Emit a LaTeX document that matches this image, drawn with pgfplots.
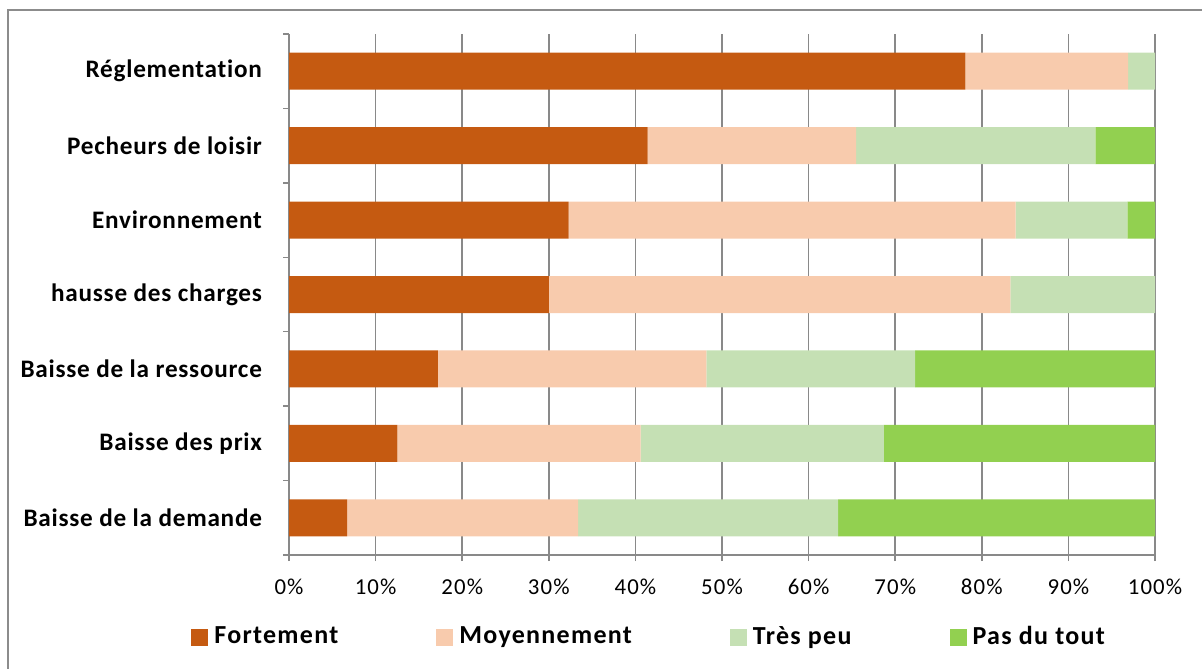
\documentclass[border=0pt]{standalone}
\usepackage{pgfplots}
\pgfplotsset{compat=1.18}
\usepackage{pgfplotstable}
\usepackage{fontspec}
\setmainfont{Carlito}
\newfontfamily\catfont[LetterSpace=3, Ligatures={NoCommon}]{Carlito}
\newfontfamily\legfont[LetterSpace=5, Ligatures={NoCommon}]{Carlito}
\newfontfamily\tickfont[LetterSpace=5]{Carlito}

\definecolor{cFort}{HTML}{C55A11}
\definecolor{cMoy}{HTML}{F8CBAD}
\definecolor{cTres}{HTML}{C5E0B4}
\definecolor{cPas}{HTML}{92D050}
\definecolor{gridgray}{HTML}{898989}
\definecolor{framegray}{HTML}{8C8C8C}

% share of answers (%) per factor, bottom to top
\pgfplotstableread{
pos fort moy tres pas
0 6.7 26.7 30.0 36.6
1 12.5 28.1 28.1 31.3
2 17.2 31.0 24.1 27.7
3 30.0 53.3 16.7 0
4 32.3 51.6 12.9 3.2
5 41.4 24.1 27.6 6.9
6 78.1 18.8 3.1 0
}\answers

\begin{document}
\begin{tikzpicture}
\useasboundingbox (0,0) rectangle (601bp,-334.5bp);
\draw[framegray, line width=1bp] (4bp,-334.5bp) -- (4bp,-5bp) -- (601bp,-5bp);
\begin{axis}[
  at={(144.5bp,-277.5bp)}, anchor=south west,
  width=433bp, height=260.5bp, scale only axis,
  xbar stacked, bar width=18.5bp,
  xmin=0, xmax=100, ymin=-0.5, ymax=6.5,
  axis x line*=bottom, axis y line*=left,
  axis line style={gridgray, line width=0.75bp},
  xtick={0,10,...,100},
  xticklabel={\pgfmathprintnumber{\tick}\%},
  /pgf/number format/assume math mode=true,
  xmajorgrids, major grid style={gridgray, line width=0.75bp},
  tick align=outside,
  major tick length=3bp,
  tick style={gridgray, line width=0.75bp},
  ytick={0,...,6},
  yticklabels={Baisse de la demande, Baisse des prix, Baisse de la ressource, hausse des charges, Environnement, Pecheurs de loisir, Réglementation},
  minor ytick={-0.5,0.5,...,6.5},
  every major y tick/.append style={draw=none},
  minor tick length=3bp,
  yticklabel style={font=\catfont\fontsize{12.6bp}{14bp}\selectfont\bfseries, xshift=-7bp},
  xticklabel style={font=\tickfont\fontsize{11.4bp}{13bp}\selectfont, yshift=-5.5bp},
  legend columns=4,
  legend style={draw=none, fill=none, at={(-0.1132,-0.1574)}, anchor=west,
    inner sep=0pt,
    font=\legfont\fontsize{13bp}{15bp}\selectfont\bfseries,
    nodes={inner xsep=3bp},
    /tikz/every even column/.append style={column sep=46bp}},
  legend image code/.code={\fill[#1] (0bp,-4.25bp) rectangle (8.5bp,4.25bp);},
]
\addplot[fill=cFort, draw=none] table[x=fort, y=pos] {\answers};
\addplot[fill=cMoy, draw=none] table[x=moy, y=pos] {\answers};
\addplot[fill=cTres, draw=none] table[x=tres, y=pos] {\answers};
\addplot[fill=cPas, draw=none] table[x=pas, y=pos] {\answers};
\legend{Fortement, Moyennement, Très peu, Pas du tout}
\end{axis}
\end{tikzpicture}
\end{document}
